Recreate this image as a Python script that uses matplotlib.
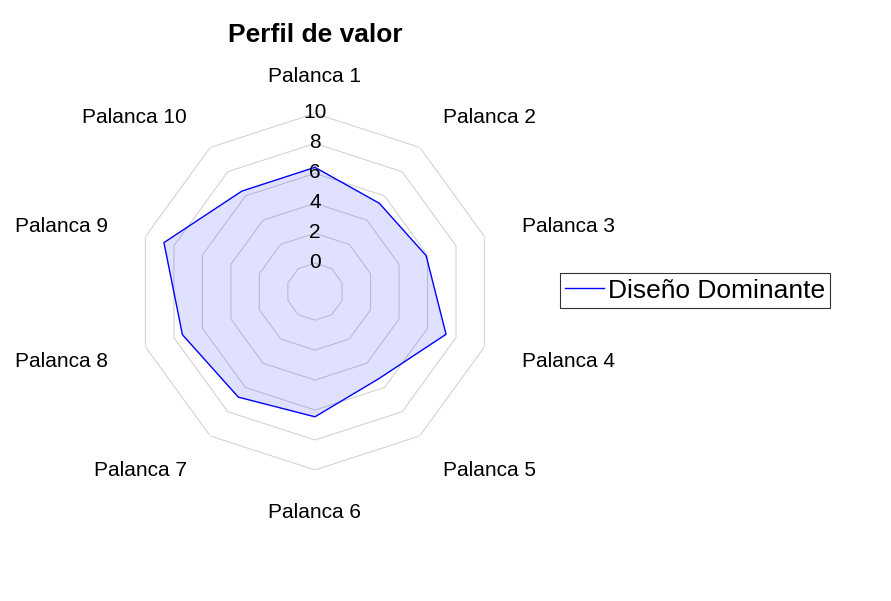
import matplotlib
matplotlib.use("Agg")
import matplotlib.pyplot as plt
import matplotlib.transforms as mtransforms
import numpy as np

plt.rcParams["font.family"] = ["Liberation Sans", "DejaVu Sans"]

# --- data ---
categories = [f"Palanca {i}" for i in range(1, 11)]
values = [6.4, 5.4, 5.9, 7.3, 5.3, 6.45, 6.8, 7.4, 8.7, 6.4]
series_name = "Diseño Dominante"
ring_levels = [0, 2, 4, 6, 8, 10]
r_min = -1.9
r_max = 10

fig = plt.figure(figsize=(8.91, 6.01), dpi=100)
ax = fig.add_axes([0.1534, 0.218, 0.4002, 0.5933], projection="polar")
ax.set_theta_zero_location("N")
ax.set_theta_direction(-1)
ax.set_ylim(r_min, r_max)
ax.grid(False)
ax.set_xticks([])
ax.set_yticks([])
ax.spines["polar"].set_visible(False)
ax.patch.set_alpha(0)

n = len(categories)
angles = np.linspace(0, 2 * np.pi, n, endpoint=False)
closed = np.append(angles, angles[0])

# polygon grid rings
for lvl in ring_levels:
    ax.plot(closed, [lvl] * (n + 1), color="#d3d3d3", lw=0.8, zorder=1)

# data
vals = np.append(values, values[0])
ax.fill(closed, vals, color="blue", alpha=0.12, lw=0, zorder=2)
line, = ax.plot(closed, vals, color="blue", lw=1.0, zorder=3, label=series_name)

# radial tick labels along the top spoke
tick_tr = mtransforms.offset_copy(ax.transData, fig=fig, y=1.0, units="dots")
for lvl in ring_levels:
    ax.text(0, lvl, str(lvl), ha="center", va="center", fontsize=15, zorder=4,
            transform=tick_tr)

# category labels
lab_tr = mtransforms.offset_copy(ax.transData, fig=fig, y=-2.5, units="dots")
r_lab = 12.65
for ang, name in zip(angles, categories):
    s = np.sin(ang)
    if abs(s) < 1e-6:
        ha = "center"
    elif s > 0:
        ha = "left"
    else:
        ha = "right"
    ax.text(ang, r_lab, name, ha=ha, va="center", fontsize=15, clip_on=False,
            transform=lab_tr)

fig.text(315.5 / 891, 1 - 35 / 601, "Perfil de valor", ha="center", va="center",
         fontsize=19, fontweight="bold")

leg = fig.legend(handles=[line], loc="center left", bbox_to_anchor=(560 / 891, 0.5166),
                 fontsize=19, frameon=True, fancybox=False, edgecolor="black",
                 handlelength=1.45, handletextpad=0.15, borderpad=0.2, borderaxespad=0)
leg.get_frame().set_linewidth(0.8)

fig.savefig("out.png", dpi=100)
